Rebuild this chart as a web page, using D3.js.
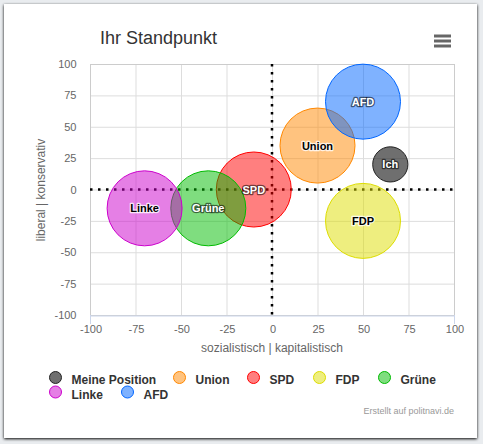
<!DOCTYPE html>
<html><head><meta charset="utf-8">
<script src="https://cdn.jsdelivr.net/npm/d3@7"></script>
<style>
html,body{margin:0;padding:0;background:#e9ecef;}
svg{display:block;font-family:"Liberation Sans",Arial,sans-serif;}
</style></head>
<body>
<svg id="c" width="483" height="444"></svg>
<script>
const names = ["Meine Position","Union","SPD","FDP","Grüne","Linke","AFD"];
const labels = ["Ich","Union","SPD","FDP","Grüne","Linke","AFD"];
const xValues = [65, 25, -10, 50, -35, -70, 50];
const yValues = [20, 35, 0, -25, -15, -15, 70];
const sizes = [2.2, 10, 10, 10, 10, 10, 10];
const colors = ["#222222","#ff8800","#ff0000","#dddd00","#00bb00","#cc00cc","#0066ff"];
const labelDark = [false, true, false, true, false, true, false];
const tickValues = [-100,-75,-50,-25,0,25,50,75,100];

const svg = d3.select("#c");
const defs = svg.append("defs");
const f = defs.append("filter").attr("id","sh").attr("x","-5%").attr("y","-5%").attr("width","110%").attr("height","110%");
f.append("feGaussianBlur").attr("in","SourceAlpha").attr("stdDeviation",1.5);
f.append("feOffset").attr("dx",0).attr("dy",0.5).attr("result","b");
const fm = f.append("feMerge"); fm.append("feMergeNode").attr("in","b"); fm.append("feMergeNode").attr("in","SourceGraphic");

// card
svg.append("rect").attr("x",4).attr("y",4).attr("width",473).attr("height",434)
  .attr("fill","#fff").attr("filter","url(#sh)");

const L=90,R=454,T=64,B=315;
const x = d3.scaleLinear().domain([-100,100]).range([L,R]);
const y = d3.scaleLinear().domain([-100,100]).range([B,T]);
const r = d3.scaleSqrt().domain([0,10]).range([0,37.5]);

// title
svg.append("text").attr("x",100).attr("y",44).attr("font-size",18).attr("fill","#333").text("Ihr Standpunkt");
// menu icon
[36,41,46].forEach(yy=>svg.append("line").attr("x1",434).attr("x2",451).attr("y1",yy).attr("y2",yy)
  .attr("stroke","#666").attr("stroke-width",3));

// grid
const g = svg.append("g");
g.selectAll(".gx").data(tickValues).join("line").attr("x1",d=>x(d)+0.5).attr("x2",d=>x(d)+0.5)
  .attr("y1",T).attr("y2",B).attr("stroke","#dddddd");
g.selectAll(".gy").data(tickValues).join("line").attr("y1",d=>y(d)+0.5).attr("y2",d=>y(d)+0.5)
  .attr("x1",L).attr("x2",R).attr("stroke","#dddddd");
svg.append("rect").attr("x",L+0.5).attr("y",T+0.5).attr("width",R-L).attr("height",B-T)
  .attr("fill","none").attr("stroke","#cccccc");
// x axis
const xa = svg.append("g").attr("transform",`translate(0.5,${B+0.5})`)
  .call(d3.axisBottom(x).tickValues(tickValues).tickSize(0).tickPadding(10).tickFormat(d=>String(d)));
xa.select(".domain").attr("stroke","#ccd6eb");
xa.selectAll("text").attr("fill","#666").attr("font-size",11).attr("font-family","Liberation Sans, Arial");
svg.selectAll(".xt").data([-100,100]).join("line").attr("x1",d=>x(d)+0.5).attr("x2",d=>x(d)+0.5)
  .attr("y1",B).attr("y2",B+9).attr("stroke","#ccd6eb");
// y axis
const ya = svg.append("g").attr("transform",`translate(${L-0.5},0)`)
  .call(d3.axisLeft(y).tickValues(tickValues).tickSize(0).tickPadding(13).tickFormat(d=>String(d)));
ya.select(".domain").remove();
ya.selectAll("text").attr("fill","#666").attr("font-size",11).attr("font-family","Liberation Sans, Arial");
// axis titles
svg.append("text").attr("x",272).attr("y",352).attr("text-anchor","middle").attr("font-size",12)
  .attr("fill","#666").text("sozialistisch | kapitalistisch");
svg.append("text").attr("transform","translate(45,190) rotate(-90)").attr("text-anchor","middle")
  .attr("font-size",12).attr("fill","#666").text("liberal | konservativ");

// plot lines
svg.append("line").attr("x1",x(0)).attr("x2",x(0)).attr("y1",T).attr("y2",B)
  .attr("stroke","#000").attr("stroke-width",2.5).attr("stroke-dasharray","2.5,5.5");
svg.append("line").attr("x1",L).attr("x2",R).attr("y1",y(0)).attr("y2",y(0))
  .attr("stroke","#000").attr("stroke-width",2.5).attr("stroke-dasharray","2.5,5.5");

// bubbles
const data = names.map((n,i)=>({n,l:labels[i],x:xValues[i],y:yValues[i],z:sizes[i],c:colors[i],dk:labelDark[i]}));
svg.append("g").selectAll("circle").data(data).join("circle")
  .attr("cx",d=>x(d.x)).attr("cy",d=>y(d.y)).attr("r",d=>r(d.z))
  .attr("fill",d=>d.c).attr("fill-opacity",(d,i)=>i===0?0.65:0.5)
  .attr("stroke",d=>d.c).attr("stroke-width",1);
svg.append("g").selectAll("text").data(data).join("text")
  .attr("x",d=>x(d.x)).attr("y",d=>y(d.y)+4).attr("text-anchor","middle")
  .attr("font-size",11).attr("font-weight","bold")
  .attr("fill",d=>d.dk?"#000":"#fff")
  .attr("stroke",d=>d.dk?"rgba(255,255,255,0.8)":"rgba(0,0,0,0.55)").attr("stroke-width",2.5)
  .attr("stroke-linejoin","round").attr("paint-order","stroke")
  .text(d=>d.l);

// legend
const legPos = [[55.5,377.5],[179.5,377.5],[253.5,377.5],[319.5,377.5],[384.5,377.5],[55.5,392],[127.5,392]];
const lg = svg.append("g").selectAll("g").data(data).join("g")
  .attr("transform",(d,i)=>`translate(${legPos[i][0]},${legPos[i][1]})`);
lg.append("circle").attr("r",6).attr("fill",d=>d.c).attr("fill-opacity",(d,i)=>i===0?0.65:0.5)
  .attr("stroke",d=>d.c);
lg.append("text").attr("x",16).attr("y",6.5).attr("font-size",12).attr("font-weight","bold")
  .attr("fill","#333").text(d=>d.n);

// credits
svg.append("text").attr("x",454).attr("y",414).attr("text-anchor","end").attr("font-size",9)
  .attr("fill","#999").text("Erstellt auf politnavi.de");
</script>
</body></html>
